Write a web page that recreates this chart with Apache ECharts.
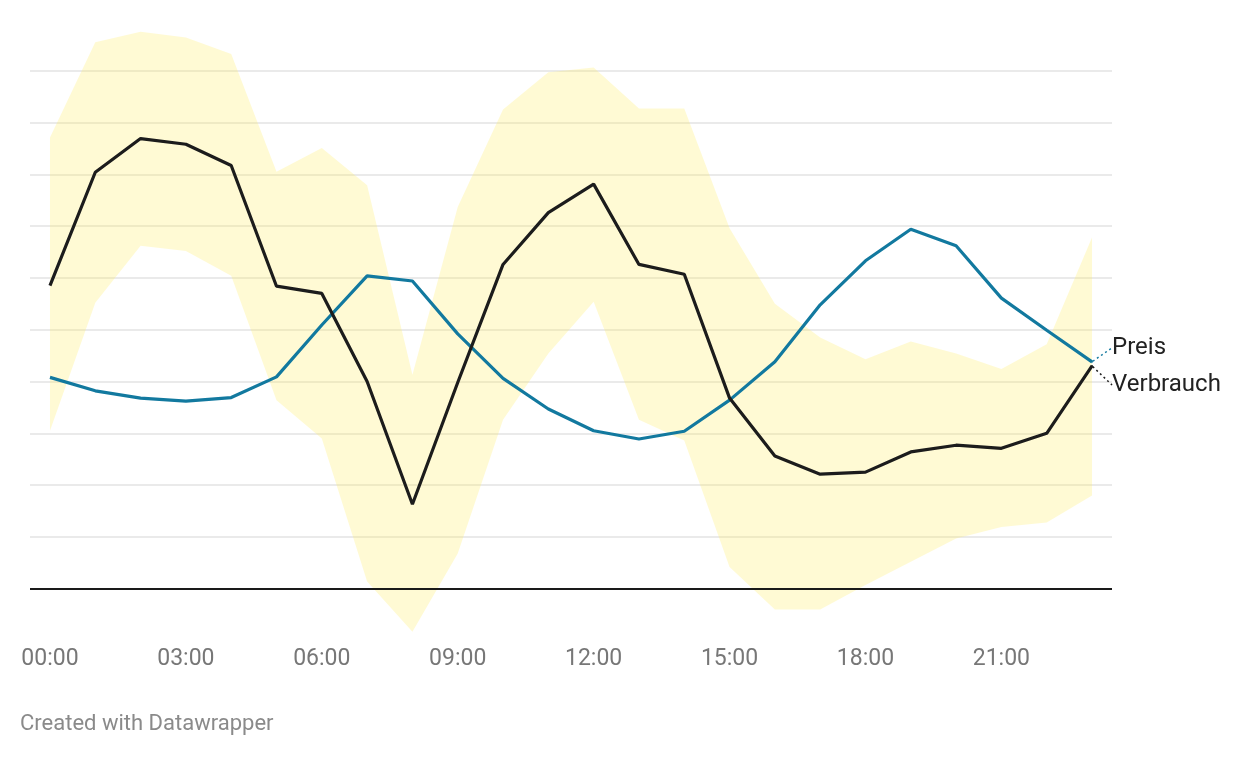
<!DOCTYPE html>
<html lang="de">
<head>
  <meta charset="UTF-8">
  <title>Preis und Verbrauch</title>
  <script src="https://cdn.jsdelivr.net/npm/echarts@6/dist/echarts.min.js"></script>
  <style>
    html, body { margin: 0; padding: 0; background: #fff; }
    #chart { width: 1240px; height: 758px; }
  </style>
</head>
<body>
  <div id="chart"></div>
<script>
  // Stunden des Tages
  const hours = ["00:00", "01:00", "02:00", "03:00", "04:00", "05:00", "06:00", "07:00",
    "08:00", "09:00", "10:00", "11:00", "12:00", "13:00", "14:00", "15:00",
    "16:00", "17:00", "18:00", "19:00", "20:00", "21:00", "22:00", "23:00"];
  const tickHours = [0, 3, 6, 9, 12, 15, 18, 21];

  const preis = [4.08, 3.82, 3.68, 3.62, 3.69, 4.09, 5.09, 6.04, 5.94, 4.92, 4.06, 3.47,
    3.05, 2.89, 3.04, 3.64, 4.38, 5.48, 6.33, 6.94, 6.62, 5.61, 4.99, 4.38];
  const verbrauch = [5.85, 8.04, 8.69, 8.58, 8.17, 5.84, 5.70, 4.00, 1.63, 3.98, 6.26, 7.26,
    7.81, 6.26, 6.07, 3.68, 2.56, 2.21, 2.25, 2.64, 2.77, 2.71, 3.00, 4.30];
  // gelbes Band (Schwankungsbreite)
  const bandHigh = [8.71, 10.55, 10.75, 10.64, 10.32, 8.05, 8.51, 7.79, 4.13, 7.37, 9.25, 9.97,
    10.06, 9.27, 9.27, 6.96, 5.50, 4.85, 4.43, 4.77, 4.54, 4.24, 4.72, 6.78];
  const bandLow = [3.05, 5.52, 6.62, 6.52, 6.04, 3.64, 2.90, 0.14, -0.83, 0.68, 3.26, 4.54,
    5.54, 3.26, 2.86, 0.42, -0.40, -0.40, 0.07, 0.52, 0.97, 1.19, 1.28, 1.80];

  const FONT = "Roboto, 'Noto Sans', sans-serif";
  const BLUE = "#12799f";
  const BLACK = "#1c1c1c";

  // nur der letzte Punkt bekommt ein Label mit Hilfslinie
  function lineData(values, name) {
    return values.map((v, i) => {
      if (i < values.length - 1) return [i, v];
      return {
        value: [i, v],
        symbol: "circle",
        symbolSize: 2,
        label: { show: true, formatter: name, position: "right" }
      };
    });
  }

  const chart = echarts.init(document.getElementById("chart"));
  chart.setOption({
    animation: false,
    textStyle: { fontFamily: FONT },
    title: {
      text: "Created with Datawrapper",
      left: 20, top: 713, padding: 0,
      textStyle: { fontSize: 22, fontWeight: "normal", color: "#8a8a8a", fontFamily: FONT }
    },
    grid: { left: 30, right: 128, top: 18.9, height: 621.6 },
    xAxis: {
      type: "value",
      min: -0.441, max: 23.441,
      axisLine: { show: false },
      axisTick: { show: false },
      splitLine: { show: false },
      axisLabel: {
        customValues: tickHours,
        formatter: (v) => hours[v],
        margin: 7,
        fontSize: 23,
        color: "#777",
        fontFamily: FONT
      }
    },
    yAxis: {
      type: "value",
      min: -1, max: 11, interval: 1,
      axisLine: { show: false },
      axisTick: { show: false },
      axisLabel: { show: false },
      splitLine: {
        show: true, showMinLine: false, showMaxLine: false,
        lineStyle: { color: "#e3e3e3", width: 1.5 }
      }
    },
    series: [
      {
        type: "custom",
        silent: true,
        z: 1,
        data: hours.map((h, i) => [i, bandLow[i], bandHigh[i]]),
        encode: { x: 0, y: [1, 2] },
        renderItem: (params, api) => {
          if (params.dataIndex !== 0) return null;
          const pts = [];
          for (let i = 0; i < hours.length; i++) pts.push(api.coord([i, bandHigh[i]]));
          for (let i = hours.length - 1; i >= 0; i--) pts.push(api.coord([i, bandLow[i]]));
          return {
            type: "polygon",
            shape: { points: pts },
            style: { fill: "rgba(255, 236, 100, 0.28)" }
          };
        }
      },
      {
        name: "Preis",
        type: "line",
        z: 3,
        symbol: "none",
        data: lineData(preis, "Preis"),
        lineStyle: { color: BLUE, width: 3.2 },
        itemStyle: { color: BLUE },
        label: { show: false, fontSize: 24, color: "#222", fontFamily: FONT },
        labelLayout: { dx: 14, dy: -14 },
        labelLine: { show: true, lineStyle: { color: BLUE, width: 1.5, type: [2, 3] } },
        markLine: {
          silent: true,
          symbol: "none",
          label: { show: false },
          lineStyle: { color: "#1a1a1a", width: 1.8, type: "solid" },
          data: [{ yAxis: 0 }]
        }
      },
      {
        name: "Verbrauch",
        type: "line",
        z: 4,
        symbol: "none",
        data: lineData(verbrauch, "Verbrauch"),
        lineStyle: { color: BLACK, width: 3.2 },
        itemStyle: { color: BLACK },
        label: { show: false, fontSize: 24, color: "#222", fontFamily: FONT },
        labelLayout: { dx: 14, dy: 19 },
        labelLine: { show: true, lineStyle: { color: BLACK, width: 1.5, type: [2, 3] } }
      }
    ]
  });
</script>
</body>
</html>
